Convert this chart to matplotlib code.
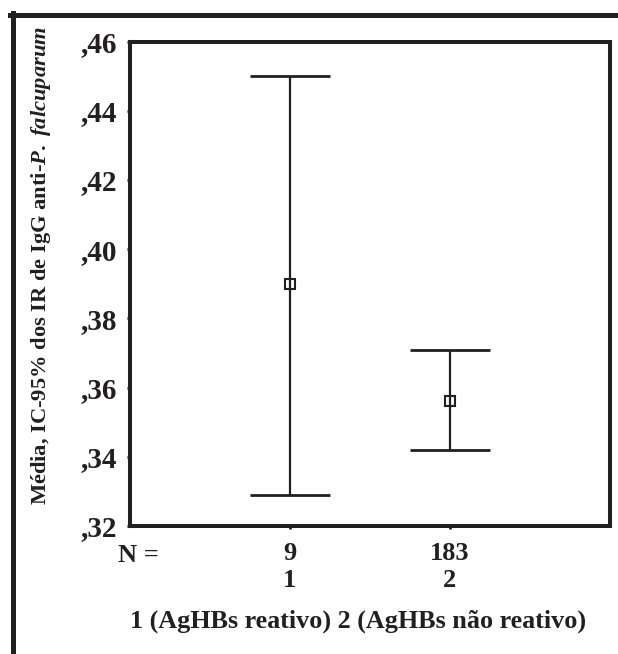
import numpy as np
import matplotlib
matplotlib.use("Agg")
import matplotlib.pyplot as plt
from matplotlib.lines import Line2D

# data
groups = [1, 2]
n_labels = ["9", "183"]
means = [0.390, 0.356]
ci_low = [0.329, 0.342]
ci_high = [0.450, 0.371]
yticks = [0.32, 0.34, 0.36, 0.38, 0.40, 0.42, 0.44, 0.46]

plt.rcParams['font.family'] = ['Liberation Serif', 'DejaVu Serif']
plt.rcParams['font.weight'] = 'bold'
plt.rcParams['mathtext.fontset'] = 'custom'
plt.rcParams['mathtext.rm'] = 'Liberation Serif:bold'
plt.rcParams['mathtext.it'] = 'Liberation Serif:italic:bold'

ink = '#231f20'
W, H = 618, 654
fig = plt.figure(figsize=(W / 100, H / 100), dpi=100)
ax = fig.add_axes([129.5 / W, 1 - 526 / H, 480.5 / W, 484.5 / H])

x = np.array(groups)
ax.vlines(x, ci_low, ci_high, color=ink, lw=1.6)
ax.hlines(ci_low, x - 0.25, x + 0.25, color=ink, lw=2)
ax.hlines(ci_high, x - 0.25, x + 0.25, color=ink, lw=2)
ax.plot(x, means, 's', ms=7.5, mfc='none', mec=ink, mew=1.5)

ax.set_xlim(0, 3)
ax.set_ylim(0.32, 0.46)
ax.set_yticks(yticks)
ax.set_yticklabels(["," + f"{v:.2f}".split(".")[1] for v in yticks],
                   fontsize=21)
ax.set_xticks(groups)
ax.set_xticklabels([f"{n}\n{g}" for n, g in zip(n_labels, groups)],
                   fontsize=19, linespacing=1.25)

for s in ax.spines.values():
    s.set_linewidth(2.9)
    s.set_color(ink)
ax.tick_params(axis='both', length=2.2, width=2, color=ink, labelcolor=ink)
ax.tick_params(axis='y', pad=7)
ax.tick_params(axis='x', pad=9)

fig.text(118 / W, 1 - 562 / H, "N =", fontsize=19, ha='left', va='baseline',
         color=ink)
fig.text(130 / W, 1 - 628 / H, "1 (AgHBs reativo) 2 (AgHBs não reativo)",
         fontsize=18.8, ha='left', va='baseline', color=ink)
fig.text(41 / W, 1 - 265 / H,
         r"Média, IC-95% dos IR de IgG anti-$\mathit{P.\ falcuparum}$",
         fontsize=16.2, rotation=90, ha='center', va='center', color=ink)

# outer frame (left and top edges)
fig.add_artist(Line2D([12.5 / W, 12.5 / W], [0, 1 - 12.5 / H], lw=3.6,
                      color=ink, transform=fig.transFigure))
fig.add_artist(Line2D([10 / W, 1], [1 - 14.5 / H, 1 - 14.5 / H], lw=3.6,
                      color=ink, transform=fig.transFigure))

fig.savefig("out.png", dpi=100)
